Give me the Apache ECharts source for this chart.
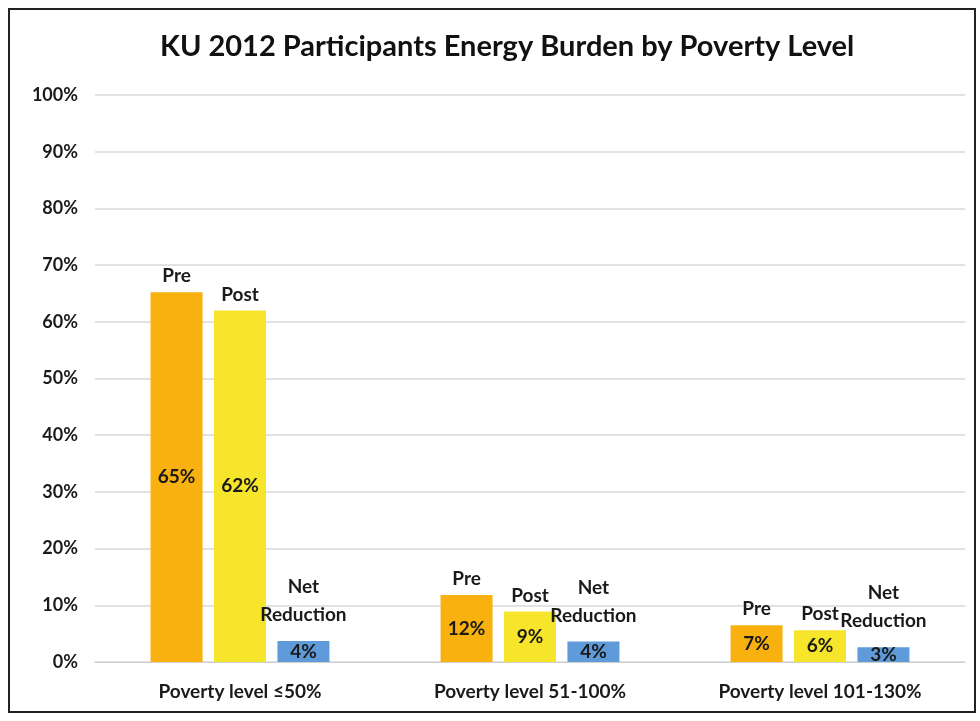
<!DOCTYPE html>
<html>
<head>
<meta charset="utf-8">
<script src="https://cdn.jsdelivr.net/npm/echarts@6/dist/echarts.min.js"></script>
<style>
html,body{margin:0;padding:0;background:#fff;}
#chart{width:980px;height:721px;}
</style>
</head>
<body>
<div id="chart"></div>
<script>
const titleText = 'KU 2012 Participants Energy Burden by Poverty Level';
const categories = ['Poverty level \u226450%', 'Poverty level 51-100%', 'Poverty level 101-130%'];
const seriesNames = ['Pre', 'Post', 'Net\nReduction'];
const preValues = [65.2, 11.8, 6.5];
const postValues = [62.0, 8.9, 5.6];
const netValues = [3.7, 3.6, 2.6];
const yTicks = [0, 10, 20, 30, 40, 50, 60, 70, 80, 90, 100];

const FONT = 'Lato';
const colors = ['#F8B10E', '#F7E52C', '#5F9BD8'];
const allValues = [preValues, postValues, netValues];
const stackIds = ['pre', 'post', 'net'];
const nameDist = [2, 2, 12];

const series = [];
allValues.forEach((vals, k) => {
  series.push({
    name: seriesNames[k],
    type: 'bar',
    stack: stackIds[k],
    data: vals,
    barWidth: 52,
    barGap: '22%',
    itemStyle: { color: colors[k] },
    label: {
      show: true,
      position: 'inside',
      formatter: p => Math.round(p.value) + '%',
      fontFamily: FONT, fontWeight: 'bold', fontSize: 19, color: '#1a1a1a'
    },
    z: 2
  });
  series.push({
    name: seriesNames[k] + ' label',
    type: 'bar',
    stack: stackIds[k],
    data: vals.map(() => 0),
    barWidth: 52,
    itemStyle: { color: 'transparent' },
    label: {
      show: true,
      position: 'top',
      distance: nameDist[k],
      formatter: () => seriesNames[k],
      fontFamily: FONT, fontWeight: 'bold', fontSize: 19, color: '#1a1a1a', lineHeight: 28
    },
    z: 3
  });
});

const chart = echarts.init(document.getElementById('chart'));
chart.setOption({
  animation: false,
  backgroundColor: '#fff',
  title: {
    text: titleText,
    left: 155,
    top: 27,
    textStyle: { fontFamily: FONT, fontWeight: 'bold', fontSize: 29, color: '#111' }
  },
  graphic: [{
    type: 'rect',
    shape: { x: 9, y: 9, width: 966, height: 703 },
    style: { fill: 'none', stroke: '#222', lineWidth: 2 },
    silent: true
  }],
  grid: { left: 95, right: 15, top: 95, bottom: 59, containLabel: false },
  xAxis: {
    type: 'category',
    data: categories,
    axisLine: { show: true, lineStyle: { color: '#cfcfcf' } },
    axisTick: { show: false },
    axisLabel: { fontFamily: FONT, fontWeight: 'bold', fontSize: 19, color: '#1a1a1a', margin: 20 }
  },
  yAxis: {
    type: 'value',
    min: yTicks[0],
    max: yTicks[yTicks.length - 1],
    interval: yTicks[1] - yTicks[0],
    axisLine: { show: false },
    axisTick: { show: false },
    splitLine: { lineStyle: { color: '#d9d9d9', width: 1.5 } },
    axisLabel: { formatter: v => v + '%', fontFamily: FONT, fontWeight: 'bold', fontSize: 18, color: '#1a1a1a', margin: 17 }
  },
  series: series
});
</script>
</body>
</html>
